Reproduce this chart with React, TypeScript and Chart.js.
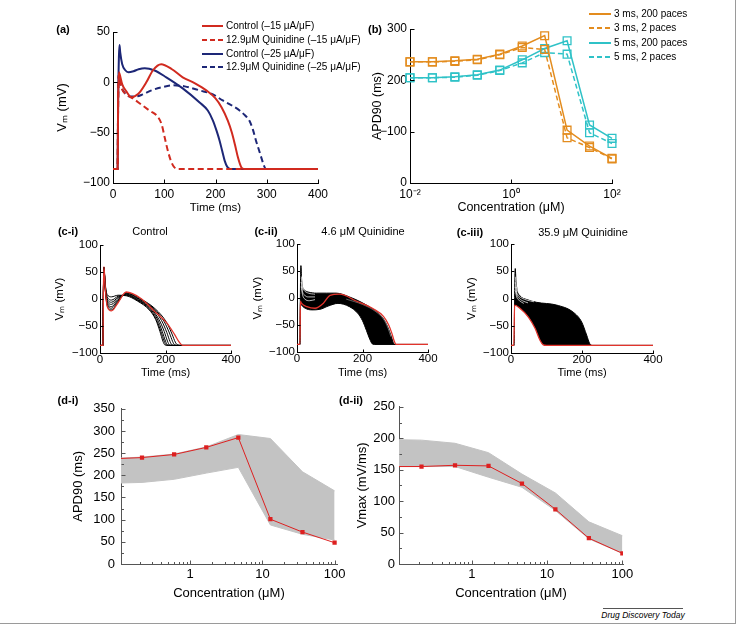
import React, { useEffect, useRef } from "react";
import { Chart, registerables } from "chart.js";

Chart.register(...registerables);

const FONT = '"Liberation Sans", Arial, Helvetica, sans-serif';
Chart.defaults.font.family = FONT;
Chart.defaults.color = "#000";

// ================= DATA =================
// Panel (a): membrane potential traces, [time ms, Vm mV]
const A_TIME_TICKS = [0, 100, 200, 300, 400];
const A_V_TICKS = [-100, -50, 0, 50];
const a_ctrl15 = [[0,-86],[9,-86],[10,-20],[11.5,10],[13,8],[18,-2],[26,-9],[36,-15],[45,-13],[52,-10],[65,0],[78,12],[94,18],[115,13],[136,5],[160,-1],[182,-8],[200,-16],[212,-25],[224,-38],[232,-50],[238,-62],[244,-75],[250,-84],[256,-86],[400,-86]];
const a_q15 = [[0,-86],[9,-86],[10,-20],[11.5,8],[13,4],[17,-6],[26,-12],[39,-16],[55,-22],[71,-28],[87,-34],[95,-42],[101,-55],[107,-68],[113,-78],[119,-84],[127,-86],[400,-86]];
const a_ctrl25 = [[0,-86],[9,-86],[10,-20],[11.5,25],[12.7,37],[14,30],[18,18],[24,12],[30,10],[40,11],[50,13],[62,14],[80,12],[104,5],[136,-6],[169,-20],[185,-28],[195,-38],[202,-48],[208,-58],[213,-68],[218,-78],[223,-84],[229,-86],[400,-86]];
const a_q25 = [[0,-86],[9,-86],[10,-20],[11.5,8],[13,3],[16,-4],[22,-10],[32,-14],[45,-14],[58,-12],[75,-8],[95,-5],[117,-3],[140,-4],[169,-8],[195,-12],[214,-18],[232,-23],[247,-28],[258,-33],[266,-38],[273,-47],[279,-58],[284,-66],[289,-74],[294,-82],[298,-86],[400,-86]];
const A_LEGEND = ["Control (\u201315 \u03bcA/\u03bcF)", "12.9\u03bcM Quinidine (\u201315 \u03bcA/\u03bcF)", "Control (\u201325 \u03bcA/\u03bcF)", "12.9\u03bcM Quinidine (\u201325 \u03bcA/\u03bcF)"];

// Panel (b): APD90 vs concentration
const B_CONC = [0.01, 0.0278, 0.0774, 0.215, 0.599, 1.67, 4.64, 12.9, 35.9, 100];
const b_3ms_200 = [236, 236, 238, 241, 251, 267, 287, 103, 72, 48];
const b_3ms_2 = [236, 236, 237, 240, 250, 264, 260, 88, 69, 47];
const b_5ms_200 = [205, 205, 207, 211, 220, 240, 262, 277, 113, 87];
const b_5ms_2 = [205, 205, 206, 210, 219, 234, 254, 251, 98, 77];
const B_X_TICKS = [0.01, 1, 100];
const B_X_LABELS = ["10\u207b\u00b2", "10\u2070", "10\u00b2"];
const B_Y_TICKS = [0, 100, 200, 300];
const B_Y_LABELS = ["0", "\u2212100", "200", "300"];
const B_LEGEND = ["3 ms, 200 paces", "3 ms, 2 paces", "5 ms, 200 paces", "5 ms, 2 paces"];

// Panels (c): populations of action potentials, [time ms, Vm mV]
const C_TIME_TICKS = [0, 200, 400];
const C_V_TICKS = [-100, -50, 0, 50, 100];
const C_TITLES = ["Control", "4.6 \u03bcM Quinidine", "35.9 \u03bcM Quinidine"];
const c1_red = [[0,-86],[9,-86],[10.5,20],[12,60],[16,22],[22,-14],[35,-22],[55,-7],[80,13],[125,1],[165,-22],[205,-45],[228,-66],[242,-80],[252,-86],[400,-86]];
const c1_k1 = [[0,-86],[9,-86],[10.5,20],[12,58],[16,28],[22,8],[35,4],[55,7],[80,6],[115,-4],[150,-20],[170,-38],[183,-60],[192,-78],[198,-85],[210,-86],[400,-86]];
const c1_k2 = [[0,-86],[9,-86],[10.5,20],[12,58],[16,26],[22,4],[35,-2],[55,5],[80,7],[115,-3],[150,-18],[172,-38],[186,-60],[196,-78],[202,-85],[215,-86],[400,-86]];
const c1_k3 = [[0,-86],[9,-86],[10.5,20],[12,58],[16,24],[22,0],[35,-6],[55,3],[80,8],[115,-2],[150,-16],[175,-37],[190,-60],[200,-78],[206,-85],[218,-86],[400,-86]];
const c1_k4 = [[0,-86],[9,-86],[10.5,20],[12,58],[16,22],[22,-3],[35,-10],[55,1],[80,9],[115,-1],[155,-17],[180,-38],[196,-60],[206,-78],[212,-85],[224,-86],[400,-86]];
const c1_k5 = [[0,-86],[9,-86],[10.5,20],[12,58],[16,20],[22,-6],[35,-14],[55,-2],[80,10],[120,-1],[160,-17],[188,-40],[204,-62],[214,-79],[220,-85],[232,-86],[400,-86]];
const c1_k6 = [[0,-86],[9,-86],[10.5,20],[12,58],[16,18],[22,-9],[35,-17],[55,-4],[80,11],[120,0],[165,-18],[196,-42],[212,-63],[222,-79],[228,-85],[240,-86],[400,-86]];
const c1_k7 = [[0,-86],[9,-86],[10.5,20],[12,58],[16,17],[22,-12],[35,-20],[55,-6],[80,12],[125,0],[170,-19],[204,-44],[220,-65],[230,-80],[237,-85],[248,-86],[400,-86]];

const c2_red = [[0,-86],[9,-86],[10.5,-6],[14,-10],[30,-16],[55,-19],[80,-10],[101,5],[130,7],[182,-6],[233,-20],[264,-34],[280,-50],[290,-66],[297,-80],[303,-86],[400,-86]];
const c2_upper = [[0,-86],[9,-86],[10.5,20],[12,60],[14,35],[17,20],[22,15],[35,11],[60,9],[90,9],[120,9],[160,2],[200,-9],[235,-22],[258,-34],[272,-47],[282,-61],[290,-75],[295,-84],[299,-86],[400,-86]];
const c2_lower = [[0,-86],[9,-86],[10.5,-8],[14,-13],[25,-19],[45,-22],[70,-21],[95,-15],[125,-10],[160,-16],[185,-28],[200,-42],[212,-60],[222,-76],[230,-85],[236,-86],[400,-86]];
const c2_w1 = [[13,40],[16,22],[22,14],[35,9],[55,7]];
const c2_w2 = [[13,30],[16,14],[22,6],[35,2],[55,2]];
const c2_w3 = [[13,22],[17,6],[24,-2],[38,-5],[55,-3]];
const c2_g1 = [[150,-2],[200,-12],[240,-25],[265,-40],[278,-56],[287,-72]];

const c3_red = [[0,-86],[8,-86],[10,-12],[25,-18],[49,-34],[68,-55],[82,-77],[91,-85],[100,-86],[400,-86]];
const c3_upper = [[0,-86],[9,-86],[10.5,20],[12,55],[14,32],[18,14],[25,5],[45,-2],[72,-7],[128,-12],[175,-25],[199,-43],[213,-67],[222,-83],[231,-86],[400,-86]];
const c3_w1 = [[12,40],[15,22],[20,12],[30,6],[45,2],[65,-1]];
const c3_w2 = [[12,30],[15,14],[20,6],[30,1],[45,-3],[65,-6]];
const c3_w3 = [[12,22],[16,8],[22,1],[32,-4],[48,-8]];
const c3_w4 = [[12,15],[16,3],[24,-4],[36,-9]];

// Panels (d): population summary vs concentration
const D_CONC = [0.0774, 0.215, 0.599, 1.67, 4.64, 12.9, 35.9, 100];
const d1_apd = [237, 240, 247, 263, 285, 101, 72, 48];
const d1_hi = [238, 241, 248, 264, 292, 283, 208, 165];
const d1_lo = [182, 184, 191, 205, 218, 88, 67, 54];
const d2_vmax = [155, 155, 157, 156, 128, 87, 41, 17];
const d2_hi = [198, 197, 192, 177, 143, 113, 67, 45];
const d2_lo = [155, 155, 155, 138, 122, 85, 40, 17];
const D_X_TICKS = [1, 10, 100];
const D_X_LABELS = ["1", "10", "100"];
const D_X_MINOR = [0.2, 0.3, 0.4, 0.5, 0.6, 0.7, 0.8, 0.9, 2, 3, 4, 5, 6, 7, 8, 9, 20, 30, 40, 50, 60, 70, 80, 90];
const D1_Y_TICKS = [0, 50, 100, 150, 200, 250, 300, 350];
const D1_Y_MINOR = [25, 75, 125, 175, 225, 275, 325];
const D2_Y_TICKS = [0, 50, 100, 150, 200, 250];
const D2_Y_MINOR = [25, 75, 125, 175, 225];

// ================= STYLE =================
const RED_A = "#d12a1f";
const NAVY = "#1d2777";
const ORANGE = "#e38c1e";
const CYAN = "#2fc2c7";
const RED_C = "#e2332b";
const RED_D = "#dd2020";
const GRAY = "#c3c3c3";

// ================= HELPERS =================
const xy = (arr: number[][]) => arr.map(([x, y]) => ({ x, y }));
const zipXY = (xs: number[], ys: number[]) => xs.map((x, i) => ({ x, y: ys[i] }));
const fmt = (v: number) => (v < 0 ? "\u2212" + Math.abs(v) : String(v));

type Box = { x: number; y: number; w: number; h: number };
type Area = { l: number; t: number; r: number; b: number };
type Ax = {
  type: "linear" | "logarithmic";
  min: number; max: number;
  ticks: number[]; labels: string[];
  title: string; titleSize: number; tickSize: number; titlePad: number; tickPad: number;
};
type TickOpts = { xMajor: number[]; xMinor: number[]; yMajor: number[]; yMinor: number[]; len: number; minorLen: number; color: string };

const innerTicks = {
  id: "innerTicks",
  afterDatasetsDraw(chart: any, _a: any, o: any) {
    if (!o || !o.xMajor) return;
    const { ctx, chartArea } = chart;
    const xs = chart.scales.x;
    const ys = chart.scales.y;
    ctx.save();
    ctx.strokeStyle = o.color;
    ctx.lineWidth = 1;
    ctx.setLineDash([]);
    const bottom = Math.round(chartArea.bottom) + 0.5;
    const left = Math.round(chartArea.left) + 0.5;
    const dx = (vals: number[], len: number) => {
      for (const v of vals) {
        if (v < xs.min * 0.999999 || v > xs.max * 1.000001) continue;
        const p = Math.round(xs.getPixelForValue(v)) + 0.5;
        ctx.beginPath(); ctx.moveTo(p, bottom); ctx.lineTo(p, bottom - len); ctx.stroke();
      }
    };
    const dy = (vals: number[], len: number) => {
      for (const v of vals) {
        if (v < ys.min - 1e-9 || v > ys.max + 1e-9) continue;
        const p = Math.round(ys.getPixelForValue(v)) + 0.5;
        ctx.beginPath(); ctx.moveTo(left, p); ctx.lineTo(left + len, p); ctx.stroke();
      }
    };
    dx(o.xMajor, o.len); dx(o.xMinor, o.minorLen);
    dy(o.yMajor, o.len); dy(o.yMinor, o.minorLen);
    ctx.restore();
  },
};

function scaleOptions(a: Ax, horizontal: boolean, fit: number, color: string) {
  return {
    type: a.type, min: a.min, max: a.max,
    position: horizontal ? "bottom" : "left",
    grid: { display: false, drawTicks: false },
    border: { display: true, color, width: 1 },
    ticks: {
      autoSkip: false, maxRotation: 0, minRotation: 0, padding: a.tickPad, color: "#000",
      font: { size: a.tickSize, family: FONT },
      callback: (v: any) => {
        const n = Number(v);
        const i = a.ticks.findIndex((t) => Math.abs(t - n) <= 1e-9 * Math.max(1, Math.abs(t)));
        return i >= 0 ? a.labels[i] : "";
      },
    },
    afterBuildTicks: (s: any) => { s.ticks = a.ticks.map((v) => ({ value: v })); },
    afterFit: (s: any) => { if (horizontal) s.height = fit; else s.width = fit; },
    title: {
      display: true, text: a.title, color: "#000",
      font: { size: a.titleSize, family: FONT },
      padding: horizontal ? { top: 0, bottom: a.titlePad } : { top: a.titlePad, bottom: 0 },
    },
  };
}

function buildConfig(box: Box, area: Area, xa: Ax, ya: Ax, datasets: any[], t: TickOpts) {
  return {
    type: "line",
    data: { datasets },
    options: {
      responsive: false, animation: false, devicePixelRatio: 1, events: [],
      layout: { padding: { left: 0, top: area.t - box.y, right: box.x + box.w - area.r, bottom: 0 } },
      plugins: { legend: { display: false }, tooltip: { enabled: false }, innerTicks: t },
      scales: {
        x: scaleOptions(xa, true, box.y + box.h - area.b, t.color),
        y: scaleOptions(ya, false, area.l - box.x, t.color),
      },
    },
    plugins: [innerTicks],
  };
}

const curve = (arr: number[][], color: string, width: number, dash: number[] = [], extra: any = {}) => ({
  data: xy(arr), borderColor: color, backgroundColor: color, borderWidth: width, borderDash: dash,
  pointRadius: 0, fill: false, cubicInterpolationMode: "monotone", ...extra,
});

function ChartCanvas({ box, make }: { box: Box; make: () => any }) {
  const ref = useRef<HTMLCanvasElement | null>(null);
  useEffect(() => {
    if (!ref.current) return;
    const ch = new Chart(ref.current, make());
    return () => ch.destroy();
  }, []);
  return (
    <canvas ref={ref} width={box.w} height={box.h}
      style={{ position: "absolute", left: box.x, top: box.y, width: box.w, height: box.h }} />
  );
}

function Txt({ x, y, children, size = 11, bold = false, italic = false, center = true }: any) {
  return (
    <div style={{
      position: "absolute", left: x, top: y, transform: center ? "translate(-50%,-50%)" : "translate(0,-50%)",
      fontFamily: FONT, fontSize: size, fontWeight: bold ? 700 : 400, fontStyle: italic ? "italic" : "normal",
      whiteSpace: "nowrap", lineHeight: 1, color: "#000",
    }}>{children}</div>
  );
}

function LegendRow({ x1, x2, y, color, dashed, label, size }: any) {
  return (
    <>
      <svg style={{ position: "absolute", left: x1, top: y - 3, overflow: "visible" }} width={x2 - x1} height={6}>
        <line x1={0} y1={3} x2={x2 - x1} y2={3} stroke={color} strokeWidth={2} strokeDasharray={dashed ? "5 3" : undefined} />
      </svg>
      <Txt x={x2 + 3} y={y} size={size} center={false}>{label}</Txt>
    </>
  );
}

// ================= PANELS =================
const BOX_A: Box = { x: 40, y: 14, w: 300, h: 210 };
const AREA_A: Area = { l: 113, t: 32, r: 318, b: 183 };
const makeA = () =>
  buildConfig(
    BOX_A, AREA_A,
    { type: "linear", min: 0, max: 400, ticks: A_TIME_TICKS, labels: A_TIME_TICKS.map(fmt), title: "Time (ms)", titleSize: 11.5, tickSize: 12, titlePad: 9, tickPad: 4 },
    { type: "linear", min: -100, max: 50, ticks: A_V_TICKS, labels: A_V_TICKS.map(fmt), title: "V\u2098 (mV)", titleSize: 13, tickSize: 12, titlePad: 15, tickPad: 3 },
    [
      curve(a_ctrl15, RED_A, 2),
      curve(a_q15, RED_A, 2, [6, 3.5]),
      curve(a_ctrl25, NAVY, 2),
      curve(a_q25, NAVY, 2, [6, 3.5]),
    ],
    { xMajor: A_TIME_TICKS, xMinor: [], yMajor: A_V_TICKS, yMinor: [], len: 4, minorLen: 2, color: "#000" }
  );

const BOX_B: Box = { x: 320, y: 5, w: 310, h: 219 };
const AREA_B: Area = { l: 410, t: 29, r: 612, b: 183 };
const markerDS = (ys: number[], color: string, dash: number[]) => ({
  data: zipXY(B_CONC, ys), borderColor: color, backgroundColor: "rgba(0,0,0,0)", borderWidth: 1.5, borderDash: dash,
  pointStyle: "rect", pointRadius: 5.5, pointBorderWidth: 1.3, pointBorderColor: color,
  pointBackgroundColor: "rgba(0,0,0,0)", fill: false, clip: false, tension: 0,
});
const makeB = () =>
  buildConfig(
    BOX_B, AREA_B,
    { type: "logarithmic", min: 0.01, max: 100, ticks: B_X_TICKS, labels: B_X_LABELS, title: "Concentration (\u03bcM)", titleSize: 12.5, tickSize: 12, titlePad: 8.5, tickPad: 4 },
    { type: "linear", min: 0, max: 300, ticks: B_Y_TICKS, labels: B_Y_LABELS, title: "APD90 (ms)", titleSize: 12.5, tickSize: 12, titlePad: 50, tickPad: 3 },
    [
      markerDS(b_3ms_200, ORANGE, []),
      markerDS(b_3ms_2, ORANGE, [5, 3]),
      markerDS(b_5ms_200, CYAN, []),
      markerDS(b_5ms_2, CYAN, [5, 3]),
    ],
    { xMajor: B_X_TICKS, xMinor: [], yMajor: B_Y_TICKS, yMinor: [], len: 4, minorLen: 2, color: "#000" }
  );

const cAxes = (titlePad: number): [Ax, Ax] => [
  { type: "linear", min: 0, max: 400, ticks: C_TIME_TICKS, labels: C_TIME_TICKS.map(fmt), title: "Time (ms)", titleSize: 11, tickSize: 11.5, titlePad: 3, tickPad: 0 },
  { type: "linear", min: -100, max: 100, ticks: C_V_TICKS, labels: C_V_TICKS.map(fmt), title: "V\u2098 (mV)", titleSize: 11.5, tickSize: 11.5, titlePad, tickPad: 2 },
];
const C_TICKS: TickOpts = { xMajor: C_TIME_TICKS, xMinor: [], yMajor: C_V_TICKS, yMinor: [], len: 3, minorLen: 2, color: "#000" };

const BOX_C1: Box = { x: 45, y: 236, w: 200, h: 147 };
const AREA_C1: Area = { l: 100, t: 245, r: 231, b: 353 };
const makeC1 = () => {
  const [xa, ya] = cAxes(8);
  return buildConfig(BOX_C1, AREA_C1, xa, ya, [
    curve(c1_red, RED_C, 1.3),
    curve(c1_k1, "#000", 1), curve(c1_k2, "#000", 1), curve(c1_k3, "#000", 1), curve(c1_k4, "#000", 1),
    curve(c1_k5, "#000", 1), curve(c1_k6, "#000", 1), curve(c1_k7, "#000", 1),
  ], C_TICKS);
};

const BOX_C2: Box = { x: 240, y: 235, w: 205, h: 148 };
const AREA_C2: Area = { l: 297, t: 244, r: 428, b: 352 };
const makeC2 = () => {
  const [xa, ya] = cAxes(11);
  return buildConfig(BOX_C2, AREA_C2, xa, ya, [
    curve(c2_red, RED_C, 1.3),
    curve(c2_w1, "rgba(255,255,255,0.9)", 0.8),
    curve(c2_w2, "rgba(255,255,255,0.9)", 0.8),
    curve(c2_w3, "rgba(255,255,255,0.9)", 0.8),
    curve(c2_g1, "rgba(150,150,150,0.8)", 0.8),
    curve(c2_upper, "#000", 1, [], { fill: 6, backgroundColor: "#000" }),
    curve(c2_lower, "#000", 1),
  ], C_TICKS);
};

const BOX_C3: Box = { x: 455, y: 235, w: 215, h: 148 };
const AREA_C3: Area = { l: 511, t: 244, r: 653, b: 353 };
const makeC3 = () => {
  const [xa, ya] = cAxes(10);
  return buildConfig(BOX_C3, AREA_C3, xa, ya, [
    curve(c3_red, RED_C, 1.3),
    curve(c3_w1, "rgba(255,255,255,0.9)", 0.8),
    curve(c3_w2, "rgba(255,255,255,0.9)", 0.8),
    curve(c3_w3, "rgba(255,255,255,0.9)", 0.8),
    curve(c3_w4, "rgba(255,255,255,0.9)", 0.8),
    curve(c3_upper, "#000", 1, [], { fill: 0, backgroundColor: "#000" }),
  ], C_TICKS);
};

const dDatasets = (vals: number[], hi: number[], lo: number[]) => [
  {
    data: zipXY(D_CONC, vals), borderColor: RED_D, backgroundColor: RED_D, borderWidth: 1,
    pointStyle: "rect", pointRadius: 3, pointBackgroundColor: RED_D, pointBorderColor: RED_D, pointBorderWidth: 0,
    fill: false, tension: 0,
  },
  { data: zipXY(D_CONC, hi), borderColor: GRAY, backgroundColor: GRAY, borderWidth: 1, pointRadius: 0, fill: 2, tension: 0 },
  { data: zipXY(D_CONC, lo), borderColor: GRAY, backgroundColor: GRAY, borderWidth: 1, pointRadius: 0, fill: false, tension: 0 },
];

const BOX_D1: Box = { x: 60, y: 395, w: 295, h: 210 };
const AREA_D1: Area = { l: 121, t: 404, r: 337, b: 564 };
const makeD1 = () =>
  buildConfig(
    BOX_D1, AREA_D1,
    { type: "logarithmic", min: 0.11, max: 108, ticks: D_X_TICKS, labels: D_X_LABELS, title: "Concentration (\u03bcM)", titleSize: 13, tickSize: 13, titlePad: 4, tickPad: 3 },
    { type: "linear", min: 0, max: 350, ticks: D1_Y_TICKS, labels: D1_Y_TICKS.map(fmt), title: "APD90 (ms)", titleSize: 13, tickSize: 13, titlePad: 10.5, tickPad: 6 },
    dDatasets(d1_apd, d1_hi, d1_lo),
    { xMajor: D_X_TICKS, xMinor: D_X_MINOR, yMajor: D1_Y_TICKS, yMinor: D1_Y_MINOR, len: 4, minorLen: 2.5, color: "#555" }
  );

const BOX_D2: Box = { x: 340, y: 395, w: 300, h: 210 };
const AREA_D2: Area = { l: 399, t: 404, r: 623, b: 564 };
const makeD2 = () =>
  buildConfig(
    BOX_D2, AREA_D2,
    { type: "logarithmic", min: 0.108, max: 102, ticks: D_X_TICKS, labels: D_X_LABELS, title: "Concentration (\u03bcM)", titleSize: 13, tickSize: 13, titlePad: 4, tickPad: 3 },
    { type: "linear", min: 0, max: 250, ticks: D2_Y_TICKS, labels: D2_Y_TICKS.map(fmt), title: "Vmax (mV/ms)", titleSize: 13, tickSize: 13, titlePad: 15, tickPad: 4 },
    dDatasets(d2_vmax, d2_hi, d2_lo),
    { xMajor: D_X_TICKS, xMinor: D_X_MINOR, yMajor: D2_Y_TICKS, yMinor: D2_Y_MINOR, len: 4, minorLen: 2.5, color: "#555" }
  );

const A_LEG_ROWS = [26, 40, 53.5, 67];
const A_LEG_COLORS = [RED_A, RED_A, NAVY, NAVY];
const B_LEG_ROWS = [14, 28, 43, 57];
const B_LEG_COLORS = [ORANGE, ORANGE, CYAN, CYAN];

export default function App() {
  return (
    <div style={{ position: "absolute", left: 0, top: 0, width: 740, height: 626, background: "#fff", overflow: "hidden" }}>
      <div style={{ position: "absolute", left: 0, top: 0, width: 735, height: 623, borderRight: "1px solid #9a9a9a", borderBottom: "1px solid #9a9a9a" }} />
      <ChartCanvas box={BOX_A} make={makeA} />
      <ChartCanvas box={BOX_B} make={makeB} />
      <ChartCanvas box={BOX_C1} make={makeC1} />
      <ChartCanvas box={BOX_C2} make={makeC2} />
      <ChartCanvas box={BOX_C3} make={makeC3} />
      <ChartCanvas box={BOX_D1} make={makeD1} />
      <ChartCanvas box={BOX_D2} make={makeD2} />

      <Txt x={63} y={29} size={11} bold>(a)</Txt>
      <Txt x={375} y={29} size={11} bold>(b)</Txt>
      {A_LEGEND.map((l, i) => (
        <LegendRow key={"a" + i} x1={202} x2={223} y={A_LEG_ROWS[i]} color={A_LEG_COLORS[i]} dashed={i % 2 === 1} label={l} size={10} />
      ))}
      {B_LEGEND.map((l, i) => (
        <LegendRow key={"b" + i} x1={589} x2={611} y={B_LEG_ROWS[i]} color={B_LEG_COLORS[i]} dashed={i % 2 === 1} label={l} size={10} />
      ))}

      <Txt x={68} y={231} size={11} bold>(c-i)</Txt>
      <Txt x={266} y={231} size={11} bold>(c-ii)</Txt>
      <Txt x={470} y={232} size={11} bold>(c-iii)</Txt>
      <Txt x={150} y={231} size={11}>{C_TITLES[0]}</Txt>
      <Txt x={363} y={231} size={11}>{C_TITLES[1]}</Txt>
      <Txt x={583} y={232} size={11}>{C_TITLES[2]}</Txt>

      <Txt x={68} y={400} size={11} bold>(d-i)</Txt>
      <Txt x={351} y={400} size={11} bold>(d-ii)</Txt>

      <div style={{ position: "absolute", left: 603, top: 608, width: 80, borderTop: "1px solid #555" }} />
      <Txt x={643} y={615} size={8.5} italic>Drug Discovery Today</Txt>
    </div>
  );
}
